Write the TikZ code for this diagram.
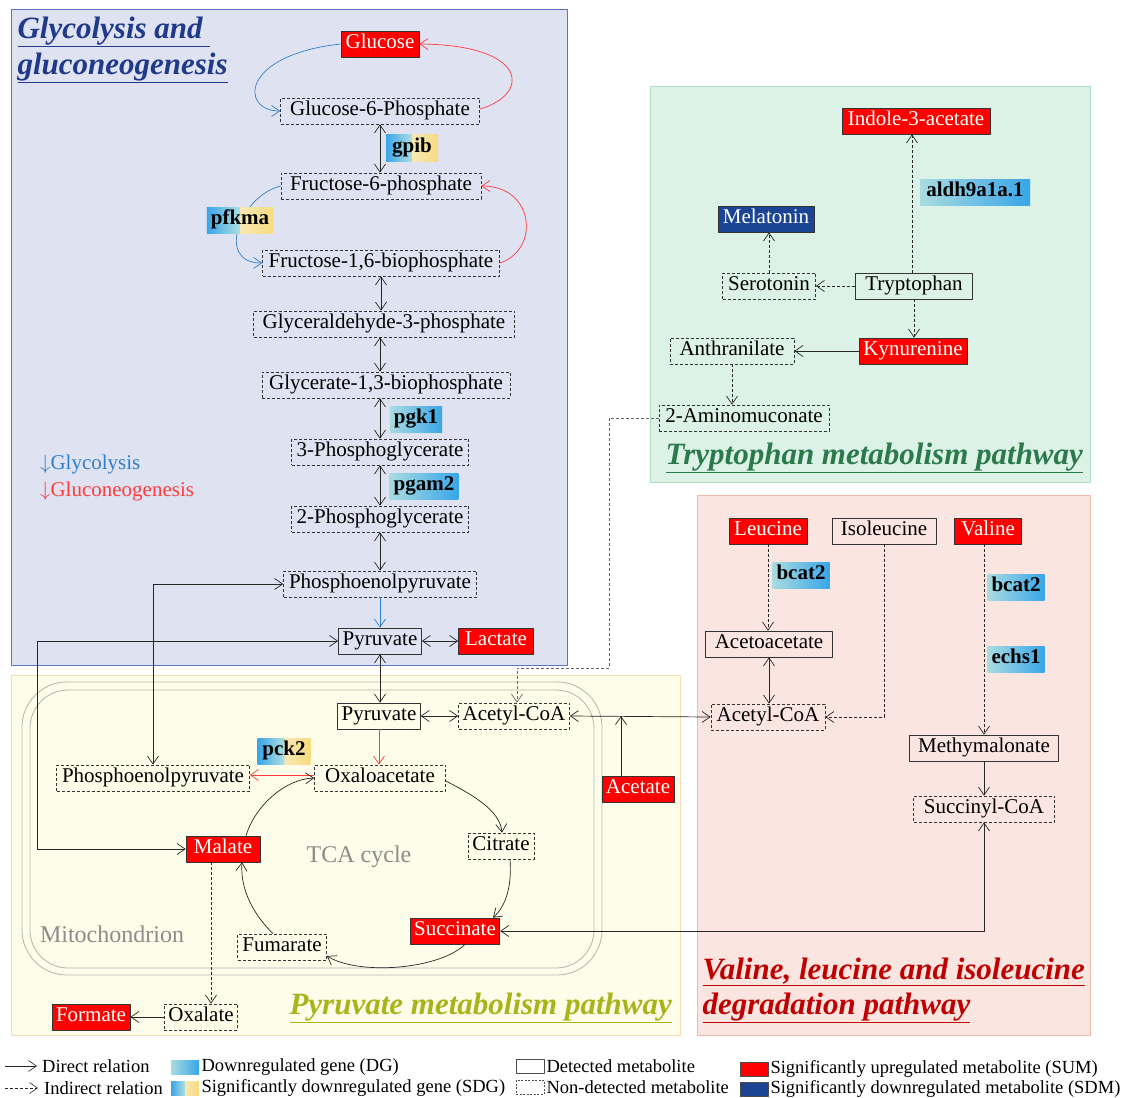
\documentclass[tikz,border=0pt]{standalone}
\usepackage{fontspec}
\setmainfont{Liberation Serif}
\usetikzlibrary{arrows.meta}
\definecolor{glyfill}{HTML}{DFE2F1}
\definecolor{glyline}{HTML}{5A74C2}
\definecolor{glytext}{HTML}{1F3A8A}
\definecolor{trpfill}{HTML}{DDF2E7}
\definecolor{trpline}{HTML}{A8DFC4}
\definecolor{trptext}{HTML}{2A7A4C}
\definecolor{valfill}{HTML}{FBE5E1}
\definecolor{valline}{HTML}{F4B8A8}
\definecolor{valtext}{HTML}{C00000}
\definecolor{pyrfill}{HTML}{FEFDE9}
\definecolor{pyrline}{HTML}{F9DEB4}
\definecolor{pyrtext}{HTML}{A8B41A}
\definecolor{mitline}{HTML}{B4B4B4}
\definecolor{sumred}{HTML}{FF0000}
\definecolor{sdmblue}{HTML}{1B4594}
\definecolor{glyarr}{HTML}{2F7FCB}
\definecolor{gluarr}{HTML}{FF3B3B}
\definecolor{graytxt}{HTML}{8C8C8C}
\pgfdeclarehorizontalshading{dgshade}{100bp}{rgb(0bp)=(0.66,0.86,0.88); rgb(25bp)=(0.66,0.86,0.88); rgb(75bp)=(0.22,0.65,0.91); rgb(100bp)=(0.22,0.65,0.91)}
\pgfdeclarehorizontalshading{sdgshade}{100bp}{rgb(0bp)=(0.22,0.65,0.91); rgb(25bp)=(0.22,0.65,0.91); rgb(49.9bp)=(0.68,0.87,0.88); rgb(50bp)=(0.97,0.91,0.70); rgb(75bp)=(0.97,0.86,0.50); rgb(100bp)=(0.97,0.86,0.50)}
\begin{document}
\begin{tikzpicture}[x=1pt,y=-1pt,>={Straight Barb[length=8pt,width=11pt]},line join=round,
    font=\fontsize{21}{25}\selectfont,
    met/.style={draw=black!80,line width=0.7pt,inner xsep=4pt,inner ysep=3pt,text height=14.5pt,text depth=5.5pt},
    nd/.style={met,dash pattern=on 3pt off 2pt},
    sum/.style={met,fill=sumred,text=white},
    sdm/.style={met,fill=sdmblue,text=white},
    dg/.style={shade,shading=dgshade,inner xsep=4pt,inner ysep=3pt,text height=14.5pt,text depth=5.5pt,font=\fontsize{21}{25}\selectfont\bfseries},
    sdg/.style={dg,shading=sdgshade},
    mw/.style={minimum width=#1},
    rel/.style={->,line width=0.7pt,draw=black!85},
    bi/.style={<->,line width=0.7pt,draw=black!85},
    ind/.style={rel,dash pattern=on 3pt off 2pt},
    ttl/.style={anchor=west,font=\fontsize{31}{35}\selectfont\bfseries\itshape},
    note/.style={text=graytxt,font=\fontsize{24}{28}\selectfont},
    key/.style={minimum width=28pt,minimum height=14pt,inner sep=0pt,line width=0.6pt},
    keytxt/.style={anchor=west,inner sep=2pt,font=\fontsize{18.5}{20}\selectfont}]
    \useasboundingbox (0,0) rectangle (1121,1097);
    %Khung
    \draw[glyline,fill=glyfill,line width=1pt] (11,10) rectangle (567,665);
    \draw[trpline,fill=trpfill,line width=1pt] (650,87) rectangle (1090,482);
    \draw[valline,fill=valfill,line width=1pt] (697,495) rectangle (1090,1035);
    \draw[pyrline,fill=pyrfill,line width=1pt] (11,675) rectangle (680,1035);
    \draw[mitline,line width=0.8pt,rounded corners=45pt] (22,682) rectangle (602,975);
    \draw[mitline,line width=0.8pt,rounded corners=38pt] (30,690) rectangle (594,968);
    \node[note] (tca) at (359,857) {TCA cycle};
    \node[note] (mito) at (112,934) {Mitochondrion};
    %Glycolysis
    \node[sum,mw=78] (glc) at (380,44) {Glucose};
    \node[nd,mw=199] (g6p) at (380,111) {Glucose-6-Phosphate};
    \node[nd,mw=200] (f6p) at (381,186) {Fructose-6-phosphate};
    \node[nd,mw=237] (fbp) at (381,263) {Fructose-1,6-biophosphate};
    \node[nd,mw=261] (gap) at (384,324) {Glyceraldehyde-3-phosphate};
    \node[nd,mw=248] (bpg) at (386,385) {Glycerate-1,3-biophosphate};
    \node[nd,mw=177] (pg3) at (380,452) {3-Phosphoglycerate};
    \node[nd,mw=177] (pg2) at (380,519) {2-Phosphoglycerate};
    \node[nd,mw=193] (pepa) at (380,584) {Phosphoenolpyruvate};
    \node[met,mw=83] (pyra) at (380,641) {Pyruvate};
    \node[sum,mw=75] (lac) at (496,641) {Lactate};
    %Pyruvate
    \node[met,mw=79] (pyrb) at (379,716) {Pyruvate};
    \node[nd,mw=111] (aca) at (514,716) {Acetyl-CoA};
    \node[nd,mw=193] (pepb) at (153,778) {Phosphoenolpyruvate};
    \node[nd,mw=131] (oxa) at (380,778) {Oxaloacetate};
    \node[nd,mw=66] (cit) at (501,846) {Citrate};
    \node[sum,mw=74] (mal) at (223,849) {Malate};
    \node[sum,mw=86] (suc) at (455,931) {Succinate};
    \node[nd,mw=89] (fum) at (282,947) {Fumarate};
    \node[nd,mw=73] (oxl) at (201,1017) {Oxalate};
    \node[sum,mw=76] (frm) at (91,1017) {Formate};
    \node[sum,mw=71] (ace) at (638,789) {Acetate};
    %Tryptophan
    \node[sum,mw=148] (iaa) at (916,121) {Indole-3-acetate};
    \node[sdm,mw=96] (mel) at (766,219) {Melatonin};
    \node[nd,mw=93] (ser) at (769,286) {Serotonin};
    \node[met,mw=117] (trp) at (914,286) {Tryptophan};
    \node[sum,mw=108] (kyn) at (913,351) {Kynurenine};
    \node[nd,mw=124] (ant) at (732,351) {Anthranilate};
    \node[nd,mw=170] (amc) at (744,418) {2-Aminomuconate};
    %Valine, leucine, isoleucine
    \node[sum,mw=78] (leu) at (768,531) {Leucine};
    \node[met,mw=104] (ile) at (884,531) {Isoleucine};
    \node[sum,mw=67] (val) at (988,531) {Valine};
    \node[met,mw=127] (aac) at (769,644) {Acetoacetate};
    \node[nd,mw=114] (acb) at (768,717) {Acetyl-CoA};
    \node[met,mw=149] (mma) at (984,748) {Methymalonate};
    \node[nd,mw=141] (scoa) at (984,809) {Succinyl-CoA};
    %Mui ten glycolysis
    \draw[rel,draw=glyarr] (glc.west) .. controls (240,55) and (240,111) .. (g6p.west);
    \draw[rel,draw=gluarr] ([yshift=2pt]g6p.east) .. controls (530,95) and (530,45) .. (glc.east);
    \draw[rel,draw=glyarr] (f6p.west) .. controls (240,196) and (215,263) .. (fbp.west);
    \draw[rel,draw=gluarr] (fbp.east) .. controls (540,250) and (535,186) .. (f6p.east);
    \draw[bi] (g6p.south) -- (g6p.south |- f6p.north);
    \draw[bi] (fbp.south) -- (fbp.south |- gap.north);
    \draw[bi] ([xshift=-4pt]gap.south) -- ([xshift=-4pt]gap.south |- bpg.north);
    \draw[bi] ([xshift=-6pt]bpg.south) -- ([xshift=-6pt]bpg.south |- pg3.north);
    \draw[bi] (pg3.south) -- (pg2.north);
    \draw[bi] (pg2.south) -- (pepa.north);
    \draw[rel,draw=glyarr] (pepa.south) -- (pyra.north);
    \draw[bi] (pyra.east) -- (lac.west);
    %Mui ten pyruvate
    \coordinate (lp) at (37,641);
    \coordinate (acj) at (621,716);
    \coordinate (k1) at (609,668);
    \draw[bi] (pepa.west) -| (pepb.north);
    \draw[bi] (mal.west) -| (lp) -- (pyra.west);
    \draw[bi] (pyra.south) -- (pyra.south |- pyrb.north);
    \draw[bi] (pyrb.east) -- (aca.west);
    \draw[rel,draw=gluarr] (pyrb.south) -- (pyrb.south |- oxa.north);
    \draw[rel,draw=gluarr] ([yshift=3pt]oxa.west) -- ([yshift=3pt]pepb.east);
    \draw[rel] ([xshift=23pt]mal.north) .. controls (255,806) and (285,779) .. (oxa.west);
    \draw[rel] ([yshift=-3pt]oxa.east) .. controls (475,796) and (500,811) .. ([xshift=1pt]cit.north);
    \draw[rel] ([xshift=9pt]cit.south) .. controls (512,886) and (506,906) .. ([xshift=38pt]suc.north);
    \draw[rel] ([xshift=10pt]suc.south) .. controls (440,969) and (360,976) .. ([yshift=-9pt]fum.east);
    \draw[rel] ([xshift=-9pt]fum.north) .. controls (255,916) and (240,891) .. ([xshift=19pt]mal.south);
    \draw[ind] ([xshift=-12pt]mal.south) -- ([xshift=-12pt]mal.south |- oxl.north);
    \draw[rel] (oxl.west) -- (frm.east);
    \draw[rel] (acj |- ace.north) -- (acj);
    \draw[bi] (aca.east) -- (acb.west);
    \draw[ind,draw=black!60] (amc.west) -| (k1) -| ([xshift=3pt]aca.north);
    \draw[bi] (suc.east) -| (scoa.south);
    %Mui ten tryptophan
    \draw[ind] ([xshift=-2pt]trp.north) -- ([xshift=-2pt]trp.north |- iaa.south);
    \draw[ind] (trp.west) -- (ser.east);
    \draw[ind] (ser.north) -- (ser.north |- mel.south);
    \draw[ind] (trp.south) -- (trp.south |- kyn.north);
    \draw[rel] (kyn.west) -- (ant.east);
    \draw[ind] (ant.south) -- (ant.south |- amc.north);
    %Mui ten valine
    \draw[ind] (leu.south) -- (leu.south |- aac.north);
    \draw[bi] (aac.south) -- (aac.south |- acb.north);
    \draw[ind] (ile.south) |- (acb.east);
    \draw[ind] (mma.north |- val.south) -- (mma.north);
    \draw[rel] (mma.south) -- (scoa.north);
    %Gen
    \node[sdg,mw=52] (gpib) at (412,148) {gpib};
    \node[sdg,mw=63] (pfkma) at (240,220) {pfkma};
    \node[dg,mw=52] (pgk) at (416,419) {pgk1};
    \node[dg,mw=67] (pgam) at (424,486) {pgam2};
    \node[sdg,mw=53] (pck) at (284,751) {pck2};
    \node[dg,mw=110] (aldh) at (975,192) {aldh9a1a.1};
    \node[dg,mw=56] (bcl) at (801,575) {bcat2};
    \node[dg,mw=56] (bcv) at (1016,587) {bcat2};
    \node[dg,mw=56] (ech) at (1016,659) {echs1};
    %Tieu de
    \node[ttl,text=glytext] (tgly1) at (14,32) {\underline{Glycolysis and\ }};
    \node[ttl,text=glytext] (tgly2) at (14,68) {\underline{gluconeogenesis}};
    \node[ttl,text=trptext] (ttrp) at (662,458) {\underline{Tryptophan metabolism pathway}};
    \node[ttl,text=pyrtext] (tpyr) at (286,1008) {\underline{Pyruvate metabolism pathway}};
    \node[ttl,text=valtext] (tval1) at (699,972) {\underline{Valine, leucine and isoleucine}};
    \node[ttl,text=valtext] (tval2) at (699,1008) {\underline{degradation pathway}};
    \node[anchor=west,text=glyarr,inner sep=0pt] (lgly) at (40,464) {$\downarrow$Glycolysis};
    \node[anchor=west,text=gluarr,inner sep=0pt] (lglu) at (40,491) {$\downarrow$Gluconeogenesis};
    %Chu thich
    \coordinate (ka1) at (5,1066);
    \coordinate (ka2) at (37,1066);
    \coordinate (kb1) at (5,1088);
    \coordinate (kb2) at (38,1088);
    \draw[rel,line width=0.6pt] (ka1) -- (ka2);
    \draw[ind,line width=0.6pt] (kb1) -- (kb2);
    \node[keytxt] (tdir) at (40,1066) {Direct relation};
    \node[keytxt] (tind) at (42,1088) {Indirect relation};
    \node[key,shade,shading=dgshade] (kdg) at (185,1067) {};
    \node[key,shade,shading=sdgshade] (ksdg) at (185,1088) {};
    \node[keytxt] (tdg) at (kdg.east) {Downregulated gene (DG)};
    \node[keytxt] (tsdg) at (ksdg.east) {Significantly downregulated gene (SDG)};
    \node[key,draw=black!70] (kdet) at (530,1066) {};
    \node[key,draw=black!70,dash pattern=on 2pt off 1.5pt] (knd) at (530,1087) {};
    \node[keytxt] (tdet) at (kdet.east) {Detected metabolite};
    \node[keytxt] (tnd) at (knd.east) {Non-detected metabolite};
    \node[key,draw=black!70,fill=sumred] (ksum) at (754,1069) {};
    \node[key,draw=black!70,fill=sdmblue] (ksdm) at (754,1089) {};
    \node[keytxt] (tsum) at (ksum.east) {Significantly upregulated metabolite (SUM)};
    \node[keytxt] (tsdm) at (ksdm.east) {Significantly downregulated metabolite (SDM)};
\end{tikzpicture}
\end{document}
